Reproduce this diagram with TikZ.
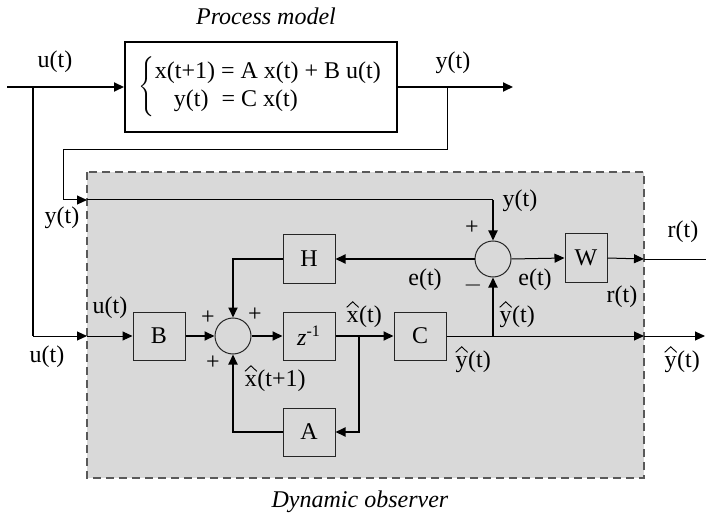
\documentclass[tikz,border=0pt]{standalone}
\usepackage{fontspec}
\setmainfont{Liberation Serif}
\usetikzlibrary{arrows.meta}
% estimate accent: a flat caret drawn above the letter
\newcommand\hatted[1]{\tikz[baseline=(hl.base)]{\node[inner sep=0pt] (hl) {#1};
  \draw[line width=0.45pt, line join=miter]
    ([xshift=-3pt,yshift=1.6pt]hl.north) -- ([yshift=4.4pt]hl.north) -- ([xshift=3pt,yshift=1.6pt]hl.north);}}

\begin{document}
\begin{tikzpicture}[x=0.5pt,y=-0.5pt,
  font=\fontsize{12}{14}\selectfont,
  thickln/.style={line width=1pt},
  thinln/.style={line width=0.5pt},
  arr/.style={-{Triangle[length=5pt,width=4.5pt]}},
  blk/.style={draw=black!85, line width=0.5pt, minimum width=26pt, minimum height=24pt, inner sep=0pt},
  sumc/.style={circle, draw=black!85, line width=0.5pt, minimum size=18pt, inner sep=0pt},
  lbl/.style={inner sep=0pt}]

\useasboundingbox (0,0) rectangle (706,513);

% observer region
\draw[fill=black!15, draw=black!65, line width=0.8pt, dash pattern=on 4pt off 2.5pt]
  (87,172) rectangle (644,478);

% process
\node[draw, line width=1pt, minimum width=136pt, minimum height=45pt, inner sep=0pt] (proc) at (261,87)
  {$\left\{\mbox{\begin{tabular}{@{}l@{}}x(t+1) = A x(t) + B u(t)\\ \hspace*{9.5pt}y(t)\hspace{6.5pt}= C x(t)\end{tabular}}\right.$};
\node[lbl] (tproc) at (266,16) {\textit{Process model}};
\node[lbl] (tobs) at (360,502) {\textit{Dynamic observer}};

% observer blocks
\node[blk] (B) at (159,336) {B};
\node[sumc] (s1) at (233,336) {};
\node[blk] (Z) at (309,336) {\textit{z}\textsuperscript{-1}};
\node[blk] (H) at (309,259) {H};
\node[blk] (A) at (309,432) {A};
\node[blk] (C) at (420,336) {C};
\node[sumc] (s2) at (493,259) {};
\node[blk, minimum width=21pt] (W) at (586,258) {W};

% junctions and border crossings
\coordinate (uin) at (7,87);
\coordinate (usplit) at (33,87);
\coordinate (ucorner) at (33,336);
\coordinate (uobs) at (87,336);
\coordinate (yout) at (513,87);
\coordinate (ysplit) at (447,87);
\coordinate (yfb1) at (447,150);
\coordinate (yfb2) at (63,150);
\coordinate (yfb3) at (63,200);
\coordinate (yobs) at (87,200);
\coordinate (ycorner) at (493,200);
\coordinate (xsplit) at (359,336);
\coordinate (ysplit2) at (493,336);
\coordinate (rb) at (644,259);
\coordinate (rend) at (706,259);
\coordinate (yhb) at (644,336);
\coordinate (yhend) at (705,336);

% process connections
\draw[thickln,arr] (uin) -- (proc.west);
\draw[thickln] (usplit) -- (ucorner);
\draw[thinln,arr] (ucorner) -- (uobs);
\draw[thinln,arr] (uobs) -- (B.west);
\draw[thickln,arr] (proc.east) -- (yout);
\draw[thinln] (ysplit) -- (yfb1) -- (yfb2) -- (yfb3);
\draw[thinln,arr] (yfb3) -- (yobs);
\draw[thinln] (yobs) -- (ycorner);
\draw[thickln,arr] (ycorner) -- (s2.north);

% observer connections
\draw[thickln,arr] (B) -- (s1);
\draw[thickln,arr] (s1) -- (Z);
\draw[thickln,arr] (Z) -- (C);
\draw[thickln,arr] (xsplit) |- (A.east);
\draw[thickln,arr] (A.west) -| (s1.south);
\draw[thickln,arr] (H.west) -| (s1.north);
\draw[thickln,arr] (s2.west) -- (H.east);
\draw[thinln,arr] (s2.east) -- (W.west);
\draw[thinln,arr] (W.east) -- (rb);
\draw[thinln] (rb) -- (rend);
\draw[thinln,arr] (C.east) -- (yhb);
\draw[thinln,arr] (yhb) -- (yhend);
\draw[thickln,arr] (ysplit2) -- (s2.south);

% signal labels
\node[lbl] (l1) at (55,62) {u(t)};
\node[lbl] (l2) at (453,63) {y(t)};
\node[lbl] (l3) at (62,218) {y(t)};
\node[lbl] (l4) at (520,201) {y(t)};
\node[lbl] (l5) at (110,308) {u(t)};
\node[lbl] (l6) at (47,357) {u(t)};
\node[lbl] (p1) at (208,318) {+};
\node[lbl] (p2) at (255,315) {+};
\node[lbl] (p3) at (213,363) {+};
\node[lbl, anchor=base] (l7) at (275,386) {\hatted{x}(t+1)};
\node[lbl, anchor=base] (l8) at (364,322) {\hatted{x}(t)};
\node[lbl] (l9) at (425,280) {e(t)};
\node[lbl] (l10) at (535,280) {e(t)};
\node[lbl] (p4) at (472,228) {+};
\node[lbl] (m1) at (473,285) {$-$};
\node[lbl] (l11) at (683,232) {r(t)};
\node[lbl] (l12) at (622,297) {r(t)};
\node[lbl, anchor=base] (l13) at (517,322) {\hatted{y}(t)};
\node[lbl, anchor=base] (l14) at (473,367) {\hatted{y}(t)};
\node[lbl, anchor=base] (l15) at (682,367) {\hatted{y}(t)};
\end{tikzpicture}
\end{document}
